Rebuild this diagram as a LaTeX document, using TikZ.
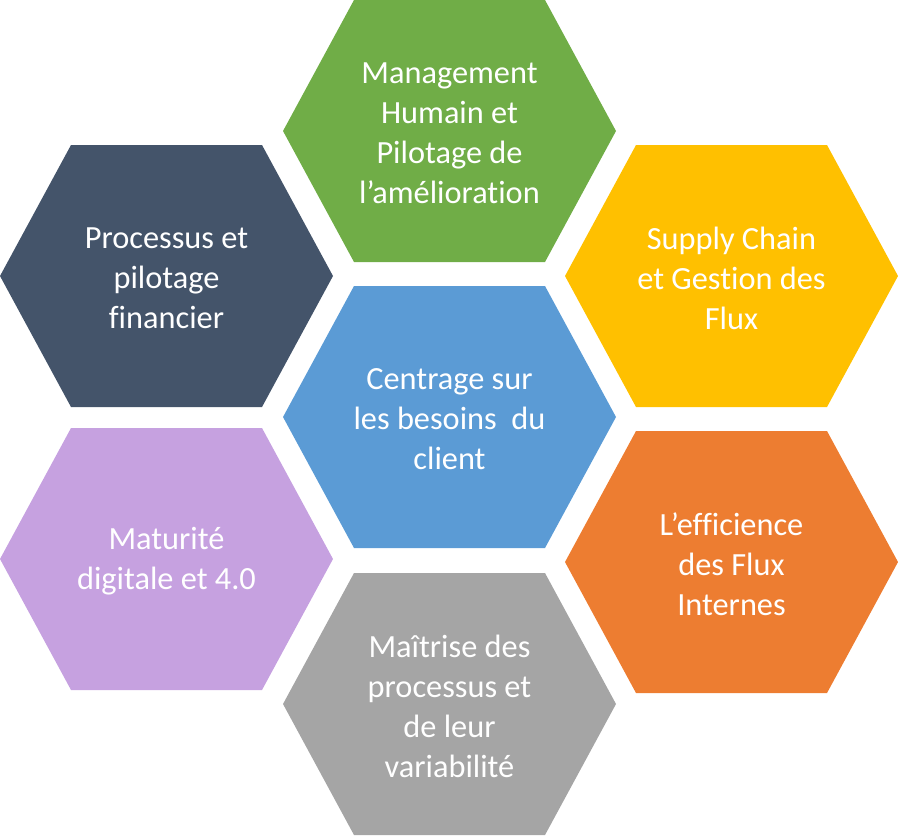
\documentclass[tikz,border=0pt]{standalone}
\usepackage{fontspec}
\setmainfont[Ligatures=NoCommon]{Carlito}
\usepackage{tikz}

\definecolor{hexgreen}{HTML}{70AD47}
\definecolor{hexslate}{HTML}{44546A}
\definecolor{hexyellow}{HTML}{FFC000}
\definecolor{hexblue}{HTML}{5B9BD5}
\definecolor{hexlilac}{HTML}{C6A1E0}
\definecolor{hexorange}{HTML}{ED7D31}
\definecolor{hexgrey}{HTML}{A5A5A5}

% name, centre x, centre y, colour, text
\newcommand{\hexcell}[5]{%
  \fill[#4] (#2-166.5,#3) -- ++(71,-131) -- ++(191,0) -- ++(71,131)
            -- ++(-71,131) -- ++(-191,0) -- cycle;
  \node[celltext] (#1) at (#2,#3) {#5};
}

\begin{document}
\begin{tikzpicture}[
  x=0.025cm, y=-0.025cm,
  celltext/.style={align=center, text=white, inner sep=0pt, yshift=-1.5pt,
    font=\fontsize{23}{28.4}\selectfont}
]
  \useasboundingbox (0,0) rectangle (898,836);

  \hexcell{mgmt}{449.5}{131}{hexgreen}{Management\\Humain et\\Pilotage de\\l’amélioration}
  \hexcell{finance}{166.5}{276}{hexslate}{Processus et\\pilotage\\financier}
  \hexcell{supply}{731.5}{276}{hexyellow}{Supply Chain\\et Gestion des\\Flux}
  \hexcell{client}{449.5}{417}{hexblue}{Centrage sur\\les besoins\ \ du\\client}
  \hexcell{digital}{166.5}{559}{hexlilac}{Maturité\\digitale et 4.0}
  \hexcell{flux}{731.5}{562}{hexorange}{L’efficience\\des Flux\\Internes}
  \hexcell{variab}{449.5}{704}{hexgrey}{Maîtrise des\\processus et\\de leur\\variabilité}
\end{tikzpicture}
\end{document}
